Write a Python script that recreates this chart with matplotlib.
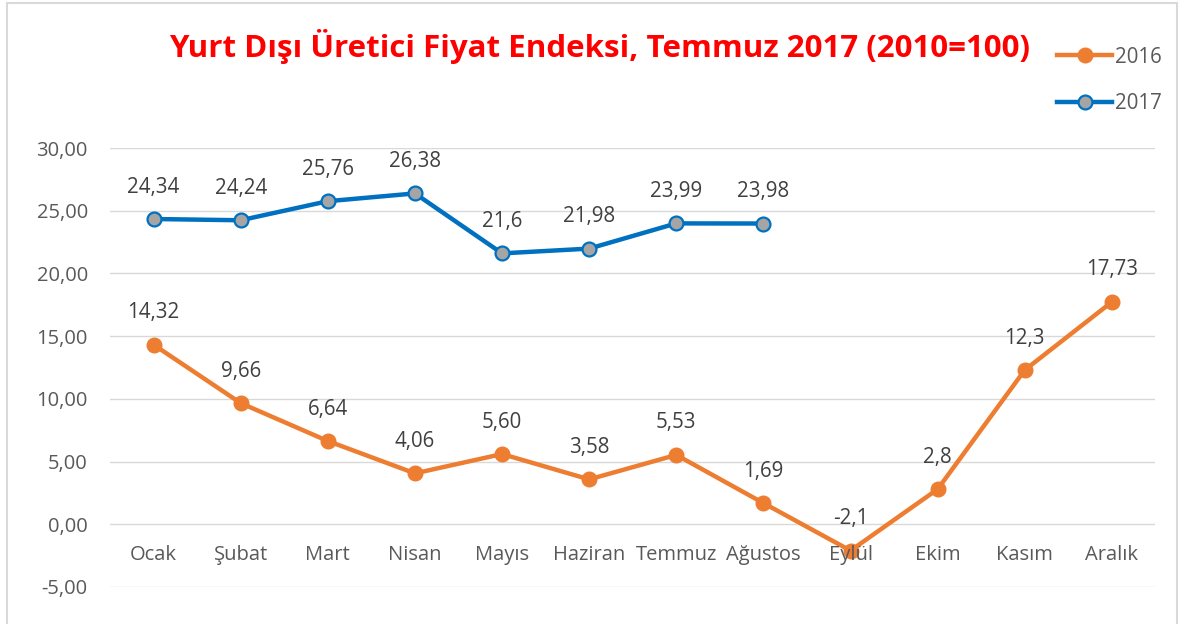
import matplotlib.pyplot as plt
from matplotlib.patches import Rectangle
from matplotlib.transforms import blended_transform_factory

months = ["Ocak", "Şubat", "Mart", "Nisan", "Mayıs", "Haziran", "Temmuz",
          "Ağustos", "Eylül", "Ekim", "Kasım", "Aralık"]
vals_2016 = [14.32, 9.66, 6.64, 4.06, 5.60, 3.58, 5.53, 1.69, -2.1, 2.8, 12.3, 17.73]
labels_2016 = ["14,32", "9,66", "6,64", "4,06", "5,60", "3,58", "5,53", "1,69",
               "-2,1", "2,8", "12,3", "17,73"]
vals_2017 = [24.34, 24.24, 25.76, 26.38, 21.6, 21.98, 23.99, 23.98]
labels_2017 = ["24,34", "24,24", "25,76", "26,38", "21,6", "21,98", "23,99", "23,98"]
yticks = [-5, 0, 5, 10, 15, 20, 25, 30]

plt.rcParams['font.family'] = ['Open Sans', 'DejaVu Sans']
orange = "#ED7D31"
blue = "#0070C0"
txt = "#404040"
tick_c = "#595959"

fig = plt.figure(figsize=(11.84, 6.24), dpi=100)
ax = fig.add_axes([0.0929, 0.0593, 0.883, 0.7035])

x16 = range(len(vals_2016))
x17 = range(len(vals_2017))
l16, = ax.plot(x16, vals_2016, color=orange, lw=3.2, marker="o", ms=10.5,
               mfc=orange, mec=orange, label="2016", zorder=3)
l17, = ax.plot(x17, vals_2017, color=blue, lw=3.2, marker="o", ms=10,
               mfc="#A5A5A5", mec=blue, mew=1.6, label="2017", zorder=3)

# data labels above the points
for x, y, s in zip(x16, vals_2016, labels_2016):
    ax.annotate(s, (x, y), xytext=(0, 23), textcoords="offset points",
                ha="center", va="center", fontsize=14.8, color=txt)
for x, y, s in zip(x17, vals_2017, labels_2017):
    ax.annotate(s, (x, y), xytext=(0, 23), textcoords="offset points",
                ha="center", va="center", fontsize=14.8, color=txt)

ax.set_xlim(-0.5, len(months) - 0.5)
ax.set_ylim(-5, 30)
ax.set_yticks(yticks)
ax.set_yticklabels([f"{v:.2f}".replace(".", ",") for v in yticks],
                   fontsize=14.5, color=tick_c)
ax.tick_params(axis="y", length=0, pad=16)
ax.set_xticks([])
ax.grid(axis="y", color="#D9D9D9", lw=1)
ax.set_axisbelow(True)
for sp in ax.spines.values():
    sp.set_visible(False)

# month names sit between the 0 and -5 gridlines
tr = blended_transform_factory(ax.transData, ax.transData)
for i, m in enumerate(months):
    ax.text(i, -2.47, m, ha="center", va="center", fontsize=14.5, color=tick_c,
            transform=tr)

fig.text(0.506, 0.925, "Yurt Dışı Üretici Fiyat Endeksi, Temmuz 2017 (2010=100)",
         ha="center", va="center", fontsize=22.5, fontweight="bold", color="#FF0000")

fig.legend(handles=[l16, l17], loc="upper left", bbox_to_anchor=(0.877, 0.955),
           frameon=False, fontsize=14.8, labelcolor=tick_c, handlelength=2.7,
           handletextpad=0.15, labelspacing=1.25)

fig.patches.append(Rectangle((0.006, -0.01), 0.988, 1.005, transform=fig.transFigure,
                             fill=False, edgecolor="#D9D9D9", lw=1.5))

fig.savefig("out.png", dpi=100)
